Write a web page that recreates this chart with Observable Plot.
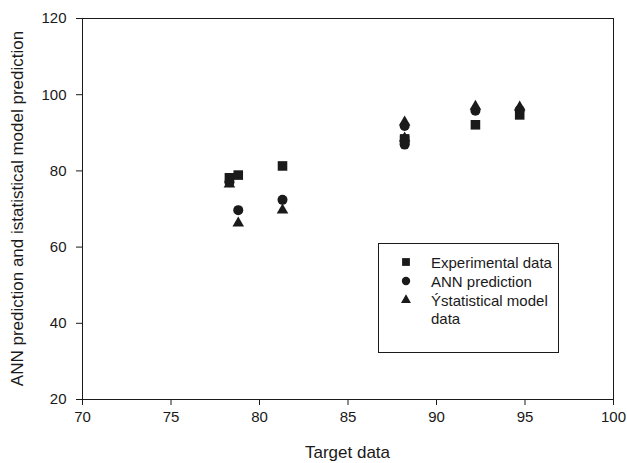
<!DOCTYPE html>
<html>
<head>
<meta charset="utf-8">
<script src="https://cdn.jsdelivr.net/npm/d3@7"></script>
<script src="https://cdn.jsdelivr.net/npm/@observablehq/plot@0.6"></script>
<style>
  html, body { margin: 0; padding: 0; background: #fff; }
  #chart { width: 627px; height: 463px; }
  svg { font-family: "Liberation Sans", Arial, sans-serif; }
</style>
</head>
<body>
<div id="chart"></div>
<script>
// Target data (x) and the three series
const targetData       = [78.3, 78.8, 81.3, 88.2, 88.2, 92.2, 94.7];
const experimentalData = [78.2, 78.9, 81.3, 88.4, 88.0, 92.1, 94.7];
const annPrediction    = [77.0, 69.7, 72.4, 91.8, 86.9, 95.8, 96.0];
const statisticalModel = [76.5, 66.3, 69.7, 92.8, 88.6, 96.9, 96.7];

const xTicks = [70, 75, 80, 85, 90, 95, 100];
const yTicks = [20, 40, 60, 80, 100, 120];

const seriesNames = ["Experimental data", "ANN prediction", "\u00DDstatistical model data"];
const legendLines = [["Experimental data"], ["ANN prediction"], ["\u00DDstatistical model", "data"]];
const xLabel = "Target data";
const yLabel = "ANN prediction and istatistical model prediction";

const rows = (vals) => targetData.map((t, i) => ({x: t, y: vals[i]}));
const ink = "#1a1a1a";

const plot = Plot.plot({
  width: 627,
  height: 463,
  marginLeft: 82,
  marginRight: 14,
  marginTop: 18,
  marginBottom: 64,
  style: {fontFamily: "Liberation Sans, Arial, sans-serif", color: ink, background: "#fff", fontSize: "15px"},
  x: {domain: [70, 100]},
  y: {domain: [20, 120]},
  marks: [
    Plot.frame({stroke: ink, strokeWidth: 1}),
    Plot.axisX({ticks: xTicks, tickSize: 6, tickPadding: 6, fontSize: 15, label: null, stroke: ink}),
    Plot.axisY({ticks: yTicks, tickSize: 6, tickPadding: 10, fontSize: 15, label: null, stroke: ink}),
    Plot.dot(rows(experimentalData), {x: "x", y: "y", symbol: "square", r: 5.4, fill: ink, stroke: "none"}),
    Plot.dot(rows(annPrediction), {x: "x", y: "y", symbol: "circle", r: 5, fill: ink, stroke: "none"}),
    Plot.dot(rows(statisticalModel), {x: "x", y: "y", symbol: "triangle", r: 4.3, fill: ink, stroke: "none"})
  ]
});
document.getElementById("chart").appendChild(plot);

const svg = d3.select(plot);
svg.selectAll('g[aria-label$="tick label"]').style("font-size", "15px").attr("fill", ink);
svg.selectAll('g[aria-label$="tick label"] text').style("font-size", "15px");

const sx = plot.scale("x"), sy = plot.scale("y");
const x0 = sx.apply(70), x1 = sx.apply(100), y0 = sy.apply(20), y1 = sy.apply(120);

// axis titles
svg.append("text")
  .attr("x", (x0 + x1) / 2).attr("y", 458)
  .attr("text-anchor", "middle").style("font-size", "17px").attr("fill", ink)
  .text(xLabel);
svg.append("text")
  .attr("transform", `translate(23,${(y0 + y1) / 2}) rotate(-90)`)
  .attr("text-anchor", "middle").style("font-size", "17px").attr("fill", ink)
  .text(yLabel);

// legend
const lg = svg.append("g").attr("text-anchor", "start");
lg.append("rect").attr("x", 378.5).attr("y", 243.5).attr("width", 180).attr("height", 109)
  .attr("fill", "#fff").attr("stroke", ink).attr("stroke-width", 1);
const symbols = [d3.symbolSquare, d3.symbolCircle, d3.symbolTriangle];
const symSize = [4.4 * 4.4 * Math.PI, 4.2 * 4.2 * Math.PI, 3.7 * 3.7 * Math.PI];
const rowY = [262, 281, 300];
seriesNames.forEach((name, i) => {
  lg.append("path")
    .attr("d", d3.symbol(symbols[i], symSize[i])())
    .attr("transform", `translate(406,${rowY[i]})`)
    .attr("fill", ink);
  legendLines[i].forEach((line, j) => {
    lg.append("text")
      .attr("x", 431).attr("y", rowY[i] + 5.5 + j * 18)
      .attr("text-anchor", "start")
      .style("font-size", "15px").attr("fill", ink)
      .text(line);
  });
});
</script>
</body>
</html>
